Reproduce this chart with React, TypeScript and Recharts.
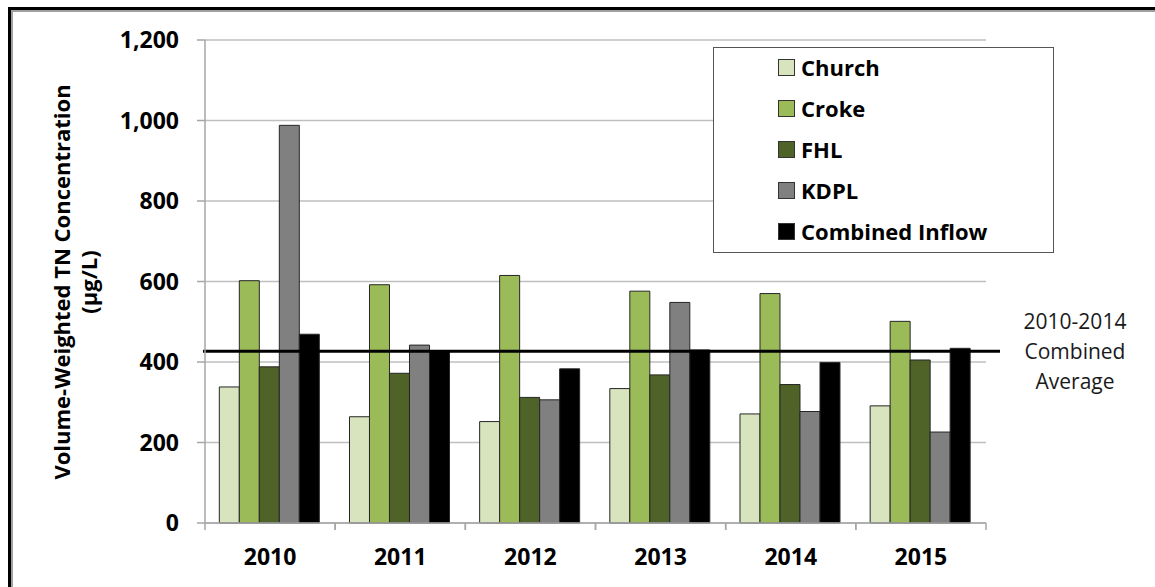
import React from "react";
import { BarChart, Bar, XAxis, YAxis, CartesianGrid, ReferenceLine } from "recharts";

const years = ["2010", "2011", "2012", "2013", "2014", "2015"];
const church = [338, 264, 252, 334, 271, 291];
const croke = [602, 592, 615, 576, 570, 501];
const fhl = [388, 372, 312, 368, 344, 405];
const kdpl = [988, 442, 306, 548, 277, 226];
const combinedInflow = [469, 428, 383, 430, 399, 434];
const combinedAverage = 427;
const yTicks = [0, 200, 400, 600, 800, 1000, 1200];

const seriesNames = ["Church", "Croke", "FHL", "KDPL", "Combined Inflow"];
const seriesColors = ["#D7E4BD", "#9BBB59", "#4F6228", "#808080", "#000000"];
const seriesKeys = ["church", "croke", "fhl", "kdpl", "combined"];

const data = years.map((y, i) => ({
  year: y,
  church: church[i],
  croke: croke[i],
  fhl: fhl[i],
  kdpl: kdpl[i],
  combined: combinedInflow[i],
}));

const FONT = "'Open Sans', sans-serif";

const XTick = (props: any) => {
  const { x, y, payload } = props;
  const half = payload && payload.offset ? payload.offset : 65;
  return (
    <g>
      <line x1={x - half} y1={y} x2={x - half} y2={y + 7} stroke="#A6A6A6" strokeWidth={1.5} />
      <line x1={x + half} y1={y} x2={x + half} y2={y + 7} stroke="#A6A6A6" strokeWidth={1.5} />
      <text x={x} y={y + 42} textAnchor="middle" fontFamily={FONT} fontWeight="bold" fontSize={23} fill="#000">
        {payload.value}
      </text>
    </g>
  );
};

const AvgLine = (props: any) => {
  const { x1, y1, x2, y2 } = props;
  const tx = x2 + 89;
  return (
    <g>
      <line x1={x1 - 2} y1={y1} x2={x2 + 14} y2={y2} stroke="#000" strokeWidth={3} />
      <text x={tx} textAnchor="middle" fontFamily={FONT} fontSize={21} fill="#1a1a1a">
        <tspan x={tx} y={y1 - 22}>2010-2014</tspan>
        <tspan x={tx} y={y1 + 8}>Combined</tspan>
        <tspan x={tx} y={y1 + 38}>Average</tspan>
      </text>
    </g>
  );
};

const YLabel = () => (
  <text transform="translate(62, 282) rotate(-90)" textAnchor="middle" fontFamily={FONT} fontWeight="bold" fontSize={22} fill="#000">
    <tspan x={0} y={8}>Volume-Weighted TN Concentration</tspan>
    <tspan x={0} y={35}>(µg/L)</tspan>
  </text>
);

export default function App() {
  return (
    <div style={{ position: "absolute", left: 0, top: 0, width: 1155, height: 587, overflow: "hidden", background: "#fff" }}>
      <div
        style={{
          position: "absolute",
          left: 8,
          top: 7,
          width: 2000,
          height: 2000,
          borderTop: "3px solid #000",
          borderLeft: "3px solid #000",
          boxShadow: "inset 2px 2px 0 #a0a0a0",
        }}
      />
      <div style={{ position: "absolute", left: 0, top: 0 }}>
        <BarChart
          width={1155}
          height={587}
          data={data}
          margin={{ top: 40, right: 169, bottom: 0, left: 0 }}
          barCategoryGap="11%"
          barGap={0}
        >
          <CartesianGrid vertical={false} stroke="#BFBFBF" strokeWidth={1.5} />
          <XAxis
            dataKey="year"
            height={64}
            axisLine={{ stroke: "#A6A6A6", strokeWidth: 1.5 }}
            tickLine={false}
            tickSize={0}
            tickMargin={0}
            tick={<XTick />}
            interval={0}
          />
          <YAxis
            width={205}
            domain={[0, 1200]}
            ticks={yTicks}
            interval={0}
            axisLine={{ stroke: "#A6A6A6", strokeWidth: 1.5 }}
            tickLine={{ stroke: "#A6A6A6", strokeWidth: 1.5 }}
            tickSize={8}
            tickMargin={18}
            tickFormatter={(v: number) => v.toLocaleString("en-US")}
            tick={{ fontFamily: FONT, fontWeight: "bold", fontSize: 23, fill: "#000" }}
            label={{ content: YLabel }}
          />
          {seriesKeys.map((k, i) => (
            <Bar
              key={k}
              dataKey={k}
              name={seriesNames[i]}
              fill={seriesColors[i]}
              stroke="#262626"
              strokeWidth={1}
              isAnimationActive={false}
            />
          ))}
          <ReferenceLine y={combinedAverage} shape={AvgLine} />
        </BarChart>
      </div>
      <div
        style={{
          position: "absolute",
          left: 713,
          top: 47,
          width: 341,
          height: 206,
          boxSizing: "border-box",
          border: "1.5px solid #555",
          background: "#fff",
        }}
      >
        {seriesNames.map((n, i) => (
          <div
            key={n}
            style={{
              position: "absolute",
              left: 64,
              top: 21 + i * 41 - 17,
              height: 30,
              display: "flex",
              alignItems: "center",
              whiteSpace: "nowrap",
            }}
          >
            <span
              style={{
                display: "inline-block",
                width: 15,
                height: 15,
                background: seriesColors[i],
                border: "1px solid #333",
                marginRight: 6,
              }}
            />
            <span style={{ fontFamily: FONT, fontWeight: "bold", fontSize: 22, color: "#000" }}>{n}</span>
          </div>
        ))}
      </div>
    </div>
  );
}
